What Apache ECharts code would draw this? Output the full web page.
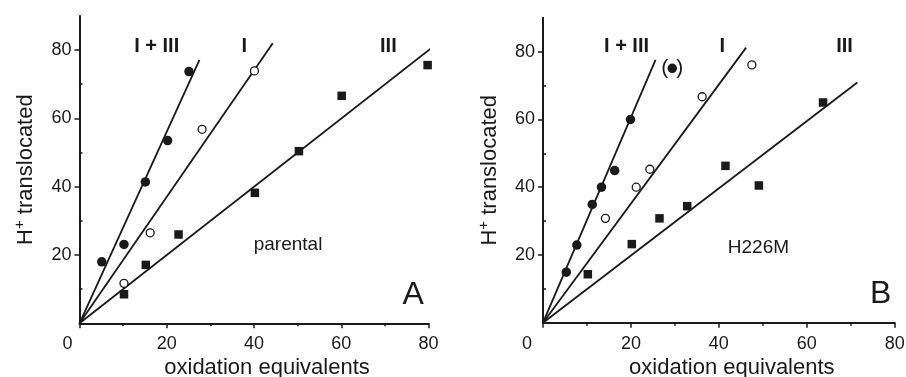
<!DOCTYPE html>
<html>
<head>
<meta charset="utf-8">
<script src="https://cdn.jsdelivr.net/npm/echarts@6/dist/echarts.min.js"></script>
<style>
  html, body { margin: 0; padding: 0; background: #fff; }
  #chart { width: 906px; height: 377px; }
</style>
</head>
<body>
<div id="chart"></div>
<script>
// panel A (parental)
const aCircles = [[5.1, 18.0], [10.2, 23.1], [15.1, 41.4], [20.2, 53.5], [25.1, 73.7]];
const aOpen = [[10.2, 11.7], [16.2, 26.5], [28.1, 56.8], [40.1, 73.9]];
const aSquares = [[10.2, 8.5], [15.2, 17.1], [22.7, 26.0], [40.2, 38.2], [50.3, 50.4], [60.1, 66.6], [79.8, 75.6]];
const aFitEnds = [[27.5, 77.1], [44.3, 82.0], [80.6, 80.5]];
const aTags = [[17.7, 81.0, 'I + III'], [37.8, 81.0, 'I'], [70.8, 81.0, 'III']];
const aNotes = [[47.8, 23.0, 'parental']];
const aLetter = [[76.5, 8.3, 'A']];

// panel B (H226M)
const bCircles = [[5.3, 14.9], [7.7, 22.9], [11.2, 34.9], [13.3, 40.0], [16.3, 44.9], [19.9, 60.0]];
const bExcluded = [[29.4, 75.1]];
const bOpen = [[14.2, 30.8], [21.2, 40.0], [24.3, 45.3], [36.2, 66.7], [47.5, 76.1]];
const bSquares = [[10.2, 14.3], [20.2, 23.2], [26.5, 30.8], [32.8, 34.4], [41.5, 46.3], [49.1, 40.5], [63.7, 65.0]];
const bFitEnds = [[25.6, 77.6], [46.2, 81.2], [71.5, 70.9]];
const bTags = [[19.0, 81.5, 'I + III'], [40.8, 81.5, 'I'], [68.6, 81.5, 'III']];
const bNotes = [[49.0, 22.2, 'H226M']];
const bLetter = [[76.8, 8.5, 'B']];

const yMajor = [20, 40, 60, 80];
const yMinor = [10, 30, 50, 70];

const FONT = '"Liberation Sans", Arial, sans-serif';
const INK = '#1a1a1a';

const chart = echarts.init(document.getElementById('chart'));

function xAxisFor(gi, zeroShift) {
  return {
    gridIndex: gi, type: 'value', min: 0, max: 80, interval: 20,
    axisLine: { lineStyle: { color: INK, width: 2 } },
    axisTick: { length: 5, lineStyle: { color: INK, width: 1.5 } },
    minorTick: { show: true, splitNumber: 2, length: 3, lineStyle: { color: INK, width: 1.5 } },
    splitLine: { show: false },
    axisLabel: {
      fontSize: 18, fontFamily: FONT, color: INK, margin: 12,
      formatter: v => v === 0 ? '{o|0}' : String(v),
      rich: { o: { fontSize: 18, fontFamily: FONT, color: INK, padding: [0, zeroShift, 0, 0] } }
    },
    name: 'oxidation equivalents', nameLocation: 'middle', nameGap: 34, nameMoveOverlap: false,
    nameTextStyle: { fontSize: 22, fontFamily: FONT, color: INK, padding: [0, 0, 0, 26] }
  };
}

function yAxesFor(gi) {
  return [{
    gridIndex: gi, type: 'value', min: 0, max: 90,
    axisLine: { onZero: false, lineStyle: { color: INK, width: 2 } },
    axisTick: { customValues: yMajor, length: 5, lineStyle: { color: INK, width: 1.5 } },
    splitLine: { show: false },
    axisLabel: { customValues: yMajor, fontSize: 18, fontFamily: FONT, color: INK, margin: 8 },
    name: '{h|H}{s|+}{h| translocated}', nameLocation: 'middle', nameGap: 40, nameMoveOverlap: false,
    nameTextStyle: {
      rich: {
        h: { fontSize: 22, fontFamily: FONT, color: INK },
        s: { fontSize: 15, fontFamily: FONT, color: INK, verticalAlign: 'top', padding: [0, 0, 12, 0] }
      }
    }
  }, {
    gridIndex: gi, type: 'value', min: 0, max: 90,
    axisLine: { show: false },
    axisTick: { customValues: yMinor, length: 3, lineStyle: { color: INK, width: 1.5 } },
    axisLabel: { show: false },
    splitLine: { show: false }
  }];
}

function textSeries(gi, yi, rows, size, weight) {
  return {
    type: 'scatter', xAxisIndex: gi, yAxisIndex: yi, symbolSize: 0, silent: true, z: 5,
    itemStyle: { color: 'transparent', opacity: 1 },
    data: rows.map(r => ({ value: [r[0], r[1]], name: r[2] })),
    label: {
      show: true, position: 'inside', formatter: p => p.name,
      fontSize: size, fontWeight: weight, fontFamily: FONT, color: INK,
      textBorderWidth: 0, textBorderColor: 'transparent'
    }
  };
}

function panelSeries(gi, yi, circles, open, squares, fitEnds, tags, notes, letter) {
  const s = [];
  fitEnds.forEach(end => s.push({
    type: 'line', xAxisIndex: gi, yAxisIndex: yi, clip: false, symbol: 'none', z: 2,
    lineStyle: { color: INK, width: 1.8 }, data: [[0, 0], end]
  }));
  s.push({ type: 'scatter', xAxisIndex: gi, yAxisIndex: yi, symbol: 'circle', symbolSize: 9.5, z: 3,
    itemStyle: { color: INK, opacity: 1 }, data: circles });
  s.push({ type: 'scatter', xAxisIndex: gi, yAxisIndex: yi, symbol: 'circle', symbolSize: 8, z: 3,
    itemStyle: { color: '#fff', borderColor: INK, borderWidth: 1.3, opacity: 1 }, data: open });
  s.push({ type: 'scatter', xAxisIndex: gi, yAxisIndex: yi, symbol: 'rect', symbolSize: 8.5, z: 3,
    itemStyle: { color: INK, opacity: 1 }, data: squares });
  s.push(textSeries(gi, yi, tags, 20, 'bold'));
  s.push(textSeries(gi, yi, notes, 19, 'normal'));
  s.push(textSeries(gi, yi, letter, 32, 'normal'));
  return s;
}

const series = []
  .concat(panelSeries(0, 0, aCircles, aOpen, aSquares, aFitEnds, aTags, aNotes, aLetter))
  .concat(panelSeries(1, 2, bCircles, bOpen, bSquares, bFitEnds, bTags, bNotes, bLetter));

// excluded point in B, drawn in parentheses
series.push({
  type: 'scatter', xAxisIndex: 1, yAxisIndex: 2, symbol: 'circle', symbolSize: 9.5, z: 3,
  itemStyle: { color: INK, opacity: 1 }, data: bExcluded,
  label: {
    show: true, position: 'inside', formatter: '{p|(}{g| }{p|)}',
    textBorderWidth: 0,
    rich: {
      p: { fontSize: 21, fontFamily: FONT, color: INK, textBorderWidth: 0 },
      g: { width: 8, fontSize: 21 }
    }
  }
});

chart.setOption({
  backgroundColor: '#fff',
  animation: false,
  grid: [
    { left: 79.5, right: 477.5, top: 15.9, bottom: 53.7, outerBoundsMode: 'none' },
    { left: 543, right: 11.3, top: 17.8, bottom: 54.3, outerBoundsMode: 'none' }
  ],
  xAxis: [xAxisFor(0, 24), xAxisFor(1, 32)],
  yAxis: yAxesFor(0).concat(yAxesFor(1)),
  series: series
});
</script>
</body>
</html>
